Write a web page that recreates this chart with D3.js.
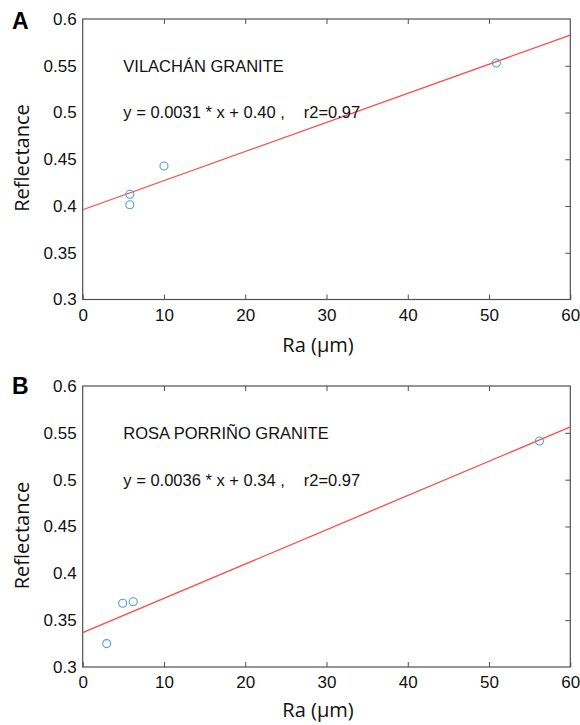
<!DOCTYPE html>
<html>
<head>
<meta charset="utf-8">
<script src="https://d3js.org/d3.v7.min.js"></script>
<style>
  body { margin: 0; background: #fff; }
  svg { display: block; }
</style>
</head>
<body>
<svg class="chart" width="580" height="725"></svg>
<script>
// values
const panelNames = ['A', 'B'];
const graniteNames = ['VILACHÁN GRANITE', 'ROSA PORRIÑO GRANITE'];
const equations = ['y = 0.0031 * x + 0.40 ,', 'y = 0.0036 * x + 0.34 ,'];
const r2Labels = ['r2=0.97', 'r2=0.97'];

const raA = [5.8, 5.8, 10.0, 50.9];
const reflA = [0.4125, 0.4014, 0.4428, 0.553];
const raB = [2.95, 4.92, 6.22, 56.2];
const reflB = [0.325, 0.368, 0.3696, 0.5413];

const xTicks = [0, 10, 20, 30, 40, 50, 60];
const yTicks = [0.3, 0.35, 0.4, 0.45, 0.5, 0.55, 0.6];

const svg = d3.select('.chart');

// layout of the two stacked panels
const left = 82.7, right = 570.3;
const layouts = [
    { top: 19, bottom: 299.5, ylabelY: 158, xlabelY: 351.5, letterY: 28.5 },
    { top: 386, bottom: 667, ylabelY: 535.5, xlabelY: 716.5, letterY: 393.5 }
];

const series = [
    { ra: raA, refl: reflA },
    { ra: raB, refl: reflB }
];

// least squares fit through the points
function fit(xs, ys){
    const mx = d3.mean(xs), my = d3.mean(ys);
    let sxy = 0, sxx = 0;
    xs.forEach((x, i) => {
        sxy += (x - mx) * (ys[i] - my);
        sxx += (x - mx) * (x - mx);
    });
    const slope = sxy / sxx;
    return { slope, intercept: my - slope * mx };
}

const tickLen = 5;
const axisColor = '#505050';

series.forEach((s, p) => {
    const lay = layouts[p];

    const xScale = d3.scaleLinear().domain([0, 60]).range([left, right]);
    const yScale = d3.scaleLinear().domain([0.3, 0.6]).range([lay.bottom, lay.top]);

    const g = svg.append('g');

    // box
    g.append('rect')
        .attr('x', left)
        .attr('y', lay.top)
        .attr('width', right - left)
        .attr('height', lay.bottom - lay.top)
        .attr('fill', 'none')
        .attr('stroke', axisColor)
        .attr('stroke-width', 1.2);

    //bottom axis, ticks pointing in
    const xAxis = g.append('g')
        .attr('transform', `translate(0, ${lay.bottom})`)
        .call(d3.axisBottom(xScale).tickValues(xTicks).tickSizeInner(-tickLen).tickSizeOuter(0).tickPadding(9));
    xAxis.select('.domain').remove();

    //top ticks, no labels
    const xTop = g.append('g')
        .attr('transform', `translate(0, ${lay.top})`)
        .call(d3.axisTop(xScale).tickValues(xTicks.slice(1, -1)).tickSizeInner(-tickLen).tickSizeOuter(0).tickFormat(''));
    xTop.select('.domain').remove();

    //left axis labels
    const yAxis = g.append('g')
        .attr('transform', `translate(${left}, 0)`)
        .call(d3.axisLeft(yScale).tickValues(yTicks).tickSize(0).tickPadding(6).tickFormat(d => String(+d.toFixed(2))));
    yAxis.select('.domain').remove();

    //right ticks
    const yRight = g.append('g')
        .attr('transform', `translate(${right}, 0)`)
        .call(d3.axisRight(yScale).tickValues(yTicks.slice(1, -1)).tickSizeInner(-tickLen).tickSizeOuter(0).tickFormat(''));
    yRight.select('.domain').remove();

    g.selectAll('.tick line')
        .attr('stroke', axisColor)
        .attr('stroke-width', 1);
    g.selectAll('.tick text')
        .attr('fill', '#111')
        .style('font-family', '"Liberation Sans", Arial, sans-serif')
        .style('font-size', '17px');

    // fit line
    const f = fit(s.ra, s.refl);
    const line = d3.line()
        .x(d => xScale(d))
        .y(d => yScale(f.slope * d + f.intercept));
    g.append('path')
        .datum(xScale.domain())
        .attr('d', line)
        .attr('fill', 'none')
        .attr('stroke', '#ff4a4a')
        .attr('stroke-width', 1.3);

    // points
    g.append('g')
        .selectAll('circle')
        .data(s.ra)
        .join('circle')
        .attr('cx', d => xScale(d))
        .attr('cy', (d, i) => yScale(s.refl[i]))
        .attr('r', 4)
        .attr('fill', 'none')
        .attr('stroke', '#4f9ddf')
        .attr('stroke-width', 1.1);

    // annotations
    const txt = g.append('g')
        .style('font-family', '"Liberation Sans", Arial, sans-serif')
        .style('font-size', '16.5px')
        .attr('fill', '#111');
    txt.append('text')
        .attr('x', xScale(5))
        .attr('y', yScale(0.55))
        .attr('dy', '0.36em')
        .text(graniteNames[p]);
    txt.append('text')
        .attr('x', xScale(5))
        .attr('y', yScale(0.5))
        .attr('dy', '0.36em')
        .text(equations[p]);
    txt.append('text')
        .attr('x', xScale(27.2))
        .attr('y', yScale(0.5))
        .attr('dy', '0.36em')
        .text(r2Labels[p]);

    // axis titles
    g.append('text')
        .attr('x', 318)
        .attr('y', lay.xlabelY)
        .attr('text-anchor', 'middle')
        .style('font-family', '"Open Sans", sans-serif')
        .style('font-size', '20px')
        .attr('fill', '#111')
        .text('Ra (µm)');
    g.append('text')
        .attr('transform', `translate(28.5, ${lay.ylabelY}) rotate(-90)`)
        .attr('text-anchor', 'middle')
        .style('font-family', '"Open Sans", sans-serif')
        .style('font-size', '20px')
        .attr('fill', '#111')
        .text('Reflectance');

    // panel letter
    g.append('text')
        .attr('x', 12)
        .attr('y', lay.letterY)
        .style('font-family', '"Liberation Sans", Arial, sans-serif')
        .style('font-size', '23px')
        .style('font-weight', 'bold')
        .attr('fill', '#000')
        .text(panelNames[p]);
});
</script>
</body>
</html>
